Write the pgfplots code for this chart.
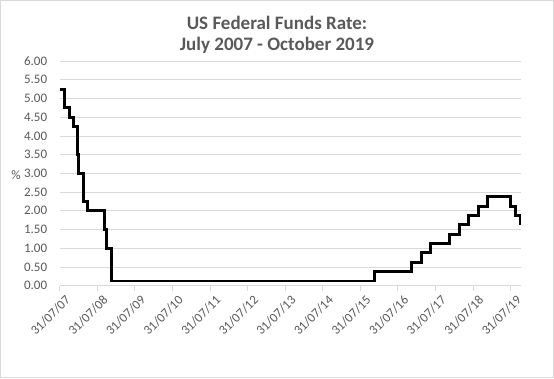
\documentclass[border=0pt]{standalone}
\usepackage{pgfplots}
\pgfplotsset{compat=1.18}
\usepackage{fontspec}
\setmainfont{Carlito}
\definecolor{txt}{HTML}{595959}
\definecolor{grd}{HTML}{D9D9D9}
\begin{document}
\begin{tikzpicture}[x=1pt,y=1pt]
\useasboundingbox (0,0) rectangle (554,378);
\draw[grd, line width=1pt] (0.5,0.5) rectangle (553.5,377.5);
\node[anchor=base, font=\bfseries\fontsize{19}{21}\selectfont, text=txt] at (277,348.7) {US Federal Funds Rate:};
\node[anchor=base, font=\bfseries\fontsize{19}{21}\selectfont, text=txt] at (277,327.5) {July 2007 - October 2019};
\node[font=\fontsize{13}{15}\selectfont, text=txt] at (16,203) {\%};
\begin{axis}[
  at={(59.7pt,92.3pt)}, anchor=south west, scale only axis,
  width=461pt, height=224.7pt,
  xmin=2007.581, xmax=2019.85, ymin=0, ymax=6,
  ytick={0,0.5,...,6},
  xtick={2007.581,2008.581,2009.581,2010.581,2011.581,2012.581,2013.581,2014.581,2015.581,2016.581,2017.581,2018.581,2019.581},
  xticklabels={31/07/07,31/07/08,31/07/09,31/07/10,31/07/11,31/07/12,31/07/13,31/07/14,31/07/15,31/07/16,31/07/17,31/07/18,31/07/19},
  xticklabel style={rotate=45, anchor=north east, font=\fontsize{13}{15}\selectfont, text=txt, inner sep=1pt, yshift=-5pt, xshift=2pt},
  yticklabel style={font=\fontsize{13}{15}\selectfont, text=txt, xshift=-4pt},
  /pgf/number format/assume math mode=true,
  yticklabel={\pgfmathprintnumber[fixed, fixed zerofill, precision=2]{\tick}},
  ymajorgrids, grid style={grd, line width=0.8pt},
  axis lines*=left,
  x axis line style={grd, line width=0.8pt},
  y axis line style={draw=none},
  xtick pos=bottom, tick align=outside,
  x tick style={grd, line width=0.8pt},
  major tick length=5pt,
  ytick style={draw=none},
  clip=false,
]
\addplot[const plot, black, line width=2.9pt] coordinates {
(2007.581,5.25)
(2007.715,4.75)
(2007.833,4.50)
(2007.945,4.25)
(2008.060,3.50)
(2008.082,3.00)
(2008.213,2.25)
(2008.331,2.00)
(2008.770,1.50)
(2008.828,1.00)
(2008.959,0.125)
(2015.959,0.375)
(2016.954,0.625)
(2017.203,0.875)
(2017.452,1.125)
(2017.951,1.375)
(2018.219,1.625)
(2018.449,1.875)
(2018.737,2.125)
(2018.967,2.375)
(2019.581,2.125)
(2019.715,1.875)
(2019.830,1.625)
};
\end{axis}
\end{tikzpicture}
\end{document}
